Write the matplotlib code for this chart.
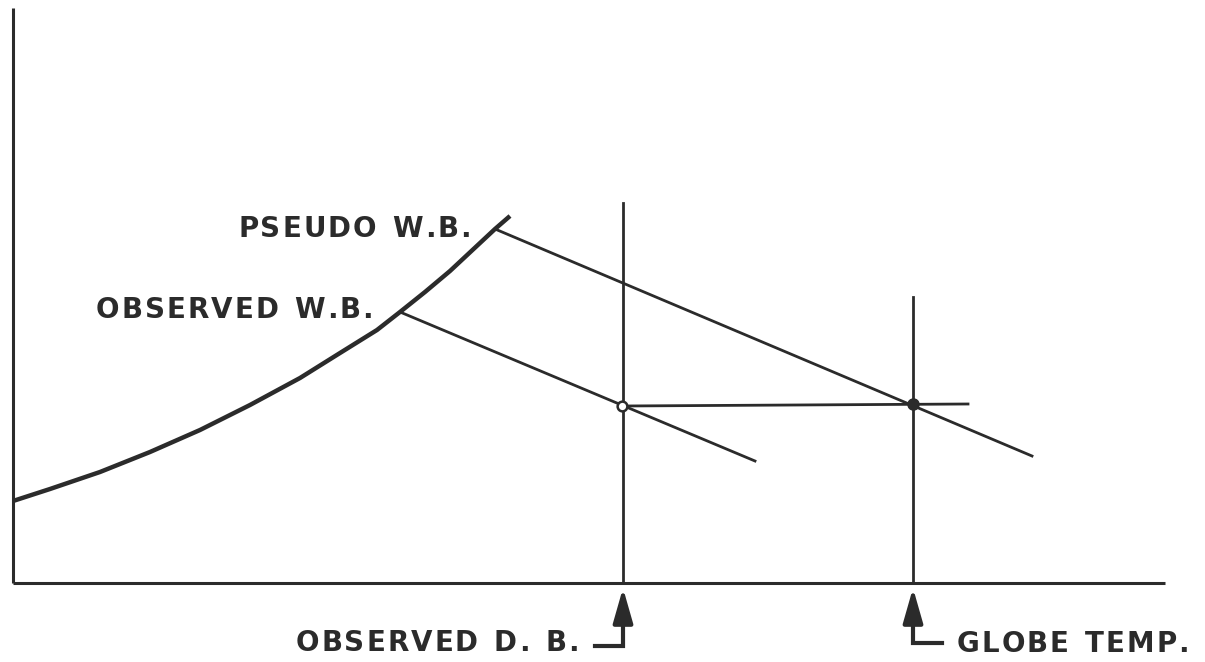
import matplotlib.pyplot as plt

# schematic drawn in picture units (x to the right, y downwards)
curve_x = [13, 50, 100, 150, 200, 250, 300, 340, 377, 400, 425, 450, 465, 480, 495, 510]
curve_y = [501, 489, 472, 452, 430, 405, 378, 353, 330, 312, 292, 271, 257, 243, 229, 216]

obs_wb_x = [400, 755]
obs_wb_y = [312, 461]
pseudo_wb_x = [495, 1032]
pseudo_wb_y = [229, 456]

db_x = 623
db_top = 203
globe_x = 913
globe_top = 297
base_y = 583

horiz_x = [622, 968]
horiz_y = [406, 404]

labels = ["PSEUDO W.B.", "OBSERVED W.B.", "OBSERVED D. B.", "GLOBE TEMP."]
label_x = [471, 373, 579, 957]
label_y = [229, 310, 643, 644]
label_ha = ["right", "right", "right", "left"]

ink = "#2b2b2b"
fsize = 20
track = 2.0

fig = plt.figure(figsize=(12.05, 6.62), dpi=100)
ax = fig.add_axes([0, 0, 1, 1])
ax.set_xlim(0, 1205)
ax.set_ylim(662, 0)
ax.axis("off")

# axes
ax.plot([13, 13], [8, base_y], color=ink, lw=2.2, solid_capstyle="butt")
ax.plot([13, 1165], [base_y, base_y], color=ink, lw=2.2, solid_capstyle="butt")

# saturation curve
ax.plot(curve_x, curve_y, color=ink, lw=3.2, solid_capstyle="butt",
        solid_joinstyle="round")

# wet bulb lines
ax.plot(obs_wb_x, obs_wb_y, color=ink, lw=2.0)
ax.plot(pseudo_wb_x, pseudo_wb_y, color=ink, lw=2.0)

# verticals and horizontal
ax.plot([db_x, db_x], [db_top, base_y], color=ink, lw=2.0)
ax.plot([globe_x, globe_x], [globe_top, base_y], color=ink, lw=2.0)
ax.plot(horiz_x, horiz_y, color=ink, lw=2.0)

ax.plot(horiz_x[0], horiz_y[0], "o", ms=7, mfc="white", mec=ink, mew=1.8)
ax.plot(globe_x, horiz_y[1], "o", ms=8, color=ink)

# arrows with L-shaped tails
for x, tail_end, bottom in [(db_x, 595, 646), (globe_x, 942, 643)]:
    ax.plot([tail_end, x, x], [bottom, bottom, 615], color=ink, lw=3.0,
            solid_joinstyle="miter")
    ax.annotate("", xy=(x, base_y + 5), xytext=(x, bottom - 20),
                arrowprops=dict(arrowstyle="-|>,head_length=2.1,head_width=0.6",
                                color=ink, lw=3.0, shrinkA=0, shrinkB=0))

# letter-spaced labels, like hand lettering
renderer = fig.canvas.get_renderer()


def char_width(ch):
    probe = ax.text(0, 0, ch if ch != " " else "n", fontsize=fsize,
                    fontweight="bold", family="DejaVu Sans")
    w = probe.get_window_extent(renderer).width
    probe.remove()
    return w * 0.6 if ch == " " else w


for t, x, y, ha in zip(labels, label_x, label_y, label_ha):
    widths = [char_width(c) for c in t]
    total = sum(widths) + track * (len(t) - 1)
    cx = x - total if ha == "right" else x
    for c, w in zip(t, widths):
        if c != " ":
            ax.text(cx, y, c, ha="left", va="center", fontsize=fsize,
                    fontweight="bold", color=ink, family="DejaVu Sans")
        cx += w + track

fig.savefig("out.png", dpi=100, facecolor="white")
